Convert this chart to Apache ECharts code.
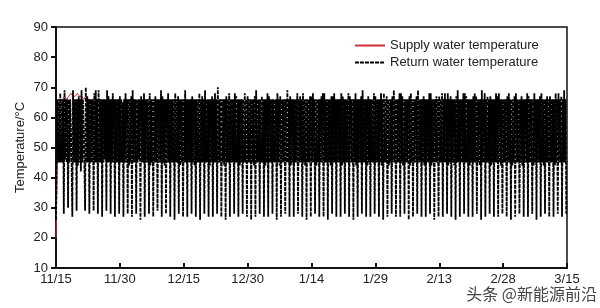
<!DOCTYPE html>
<html>
<head>
<meta charset="utf-8">
<script src="https://cdn.jsdelivr.net/npm/echarts@6/dist/echarts.min.js"></script>
<style>
html,body{margin:0;padding:0;background:#fff;}
#c{width:600px;height:308px;}
</style>
</head>
<body>
<div id="c"></div>
<script>
// x-axis tick labels (every 15 days from 11/15 to 3/15)
const tickLabels = ['11/15','11/30','12/15','12/30','1/14','1/29','2/13','2/28','3/15'];
const seriesNames = ['Supply water temperature', 'Return water temperature'];

// Return water temperature (°C), 6 readings per day, 15 days per block
const return_1115 = [
26,45,66,45,66,45, 68,45,66,45,66,28, 69,46,66,45,66,30, 66,45,66,66,45,27, 69,45,66,45,66,29,
66,44,67,45,66,42, 69,45,66,66,45,29, 70,45,67,45,66,28, 66,45,66,45,66,29, 68,45,69,45,66,28,
69,45,66,45,66,27, 66,45,66,46,66,29, 69,45,67,45,66,28, 66,45,68,45,66,27, 66,45,66,45,66,28];
const return_1130 = [
67,45,66,45,65,27, 66,45,68,45,66,28, 66,44,66,45,67,27, 69,45,66,45,66,28, 66,45,66,46,66,26,
67,45,66,45,68,27, 66,45,66,45,66,28, 68,44,66,45,66,27, 66,45,67,45,66,29, 66,45,66,45,69,27,
67,45,66,44,66,28, 66,45,68,45,66,27, 66,45,66,45,66,26, 68,45,66,45,67,28, 66,44,66,45,66,27];
const return_1215 = [
66,45,69,45,66,27, 66,45,66,45,66,28, 67,45,66,44,66,27, 66,45,66,45,68,26, 66,45,67,45,66,28,
69,45,66,45,66,27, 66,44,66,45,67,27, 66,45,68,45,66,28, 70,45,66,45,66,27, 66,45,66,44,66,26,
67,45,66,45,68,27, 66,45,66,45,66,28, 68,45,67,45,66,27, 66,44,66,45,66,28, 66,45,68,45,66,27];
const return_1230 = [
67,45,66,45,66,26, 66,45,66,44,67,27, 69,45,66,45,66,28, 66,45,67,45,66,27, 66,44,66,45,68,27,
67,45,66,45,66,28, 66,45,66,45,66,26, 68,45,66,44,67,27, 66,45,66,45,66,28, 66,45,69,45,66,27,
67,44,66,45,66,27, 66,45,66,45,68,28, 66,45,67,45,66,27, 68,45,66,44,66,26, 66,45,66,45,67,27];
const return_0114 = [
67,45,68,45,66,28, 66,44,66,45,66,27, 66,45,67,45,68,27, 68,45,66,45,66,26, 66,45,66,44,67,28,
67,45,68,45,66,27, 66,45,66,45,66,27, 68,44,67,45,66,28, 66,45,66,45,68,27, 67,45,66,45,66,26,
66,45,68,44,66,27, 66,45,66,45,67,28, 69,45,66,45,66,27, 66,44,67,45,66,27, 66,45,66,45,68,28];
const return_0129 = [
67,45,66,45,66,27, 66,45,68,44,66,26, 68,45,66,45,67,27, 66,44,66,45,66,28, 67,45,69,45,66,27,
66,45,66,45,68,27, 68,45,67,44,66,28, 66,45,66,45,66,26, 67,44,68,45,66,27, 66,45,66,45,67,28,
69,45,66,45,66,27, 66,45,67,44,66,27, 66,45,66,45,68,28, 68,44,66,45,66,26, 66,45,67,45,66,27];
const return_0213 = [
67,45,66,45,68,27, 66,45,68,45,66,28, 68,44,66,45,67,27, 66,45,66,44,66,26, 67,45,69,45,66,27,
66,45,66,45,68,28, 68,45,67,45,66,27, 66,44,66,45,66,27, 67,45,68,45,67,28, 66,45,66,44,66,26,
69,45,66,45,68,27, 66,45,67,45,66,28, 67,44,66,45,66,27, 66,45,68,45,67,27, 68,45,66,44,66,28];
const return_0228 = [
66,45,66,45,66,27, 67,45,68,45,66,26, 66,44,66,45,67,27, 68,45,66,45,66,28, 66,45,67,44,66,27,
66,45,66,45,68,27, 67,45,66,45,66,28, 66,44,68,45,66,26, 66,45,66,45,67,27, 68,45,66,44,66,28,
66,45,67,45,66,27, 67,45,66,45,66,27, 66,44,68,45,66,28, 68,45,66,45,67,27, 66,45,69,45,66,28];

// Supply water temperature (°C), 2 readings per day, 30 days per block
const supply_1115 = [
20,62, 65,66, 67,66, 67,68, 67,67, 68,67, 67,66, 67,66, 66,65, 65,65,
65,66, 65,64, 65,65, 66,65, 65,65, 65,64, 65,65, 66,65, 65,65, 64,65,
65,65, 65,66, 65,65, 64,65, 65,65, 65,65, 66,65, 65,64, 65,65, 65,65];
const supply_1215 = [
65,65, 65,64, 66,65, 65,65, 65,65, 64,65, 65,65, 65,66, 65,65, 65,64,
65,50, 65,65, 66,65, 65,65, 64,65, 65,65, 65,66, 65,65, 65,64, 65,65,
65,65, 66,65, 65,65, 64,65, 65,65, 65,65, 65,66, 65,65, 65,64, 65,65];
const supply_0114 = [
46,65, 65,65, 66,65, 65,65, 64,65, 65,65, 65,66, 65,65, 65,64, 65,65,
65,65, 66,65, 65,65, 64,65, 65,65, 65,65, 65,66, 65,65, 65,64, 65,65,
65,65, 66,65, 65,65, 64,65, 65,65, 65,65, 65,66, 65,65, 65,64, 65,65];
const supply_0213 = [
65,65, 66,65, 65,65, 64,65, 65,65, 65,65, 65,66, 65,65, 65,64, 65,65,
65,65, 66,65, 65,65, 64,65, 65,65, 65,65, 65,66, 65,65, 65,64, 65,65,
65,65, 66,65, 65,65, 64,65, 65,65, 65,65, 65,66, 65,65, 65,64, 65,66];

const returnBlocks = [return_1115, return_1130, return_1215, return_1230, return_0114, return_0129, return_0213, return_0228];
const supplyBlocks = [supply_1115, supply_1215, supply_0114, supply_0213];

function toPoints(blocks, daysPerBlock, perDay) {
  const out = [];
  blocks.forEach((arr, b) => {
    arr.forEach((v, i) => out.push([b * daysPerBlock + i / perDay, v]));
  });
  return out;
}
const returnData = toPoints(returnBlocks, 15, 6);
const supplyData = toPoints(supplyBlocks, 30, 2);

const chart = echarts.init(document.getElementById('c'), null, {renderer: 'canvas'});
const FONT = 'Liberation Sans, Arial, sans-serif';
chart.setOption({
  animation: false,
  backgroundColor: '#fff',
  grid: {left: 56, right: 33, top: 27, bottom: 40, show: true, borderColor: '#111', borderWidth: 1.5, backgroundColor: 'transparent'},
  legend: {
    orient: 'vertical', left: 349, top: 34, itemWidth: 30, itemHeight: 10, itemGap: 4,
    itemStyle: {opacity: 0},
    textStyle: {fontFamily: FONT, fontSize: 13, color: '#222'},
    data: seriesNames
  },
  xAxis: {
    type: 'value', min: 0, max: 120, interval: 15,
    axisLine: {show: true, lineStyle: {color: '#111', width: 2}},
    axisTick: {show: true, inside: true, length: 5, lineStyle: {color: '#111', width: 2}},
    axisLabel: {margin: 5, fontFamily: FONT, fontSize: 13, color: '#222',
      formatter: v => tickLabels[Math.round(v / 15)]},
    splitLine: {show: false}
  },
  yAxis: {
    type: 'value', min: 10, max: 90, interval: 10,
    name: 'Temperature/°C', nameLocation: 'middle', nameGap: 29, nameMoveOverlap: false,
    nameTextStyle: {fontFamily: FONT, fontSize: 13, color: '#222'},
    axisLine: {show: true, lineStyle: {color: '#111', width: 2}},
    axisTick: {show: true, inside: false, length: 5, lineStyle: {color: '#111', width: 2}},
    axisLabel: {margin: 8, fontFamily: FONT, fontSize: 13, color: '#222'},
    splitLine: {show: false}
  },
  series: [
    {name: seriesNames[0], type: 'line', data: supplyData, symbol: 'none', silent: true,
      lineStyle: {color: '#d0303a', width: 1}, itemStyle: {color: '#d0303a'}},
    {name: seriesNames[1], type: 'line', data: returnData, symbol: 'none', silent: true,
      lineStyle: {color: '#000', width: 1.8, type: [4, 1]}, itemStyle: {color: '#000'}}
  ],
  graphic: [{
    type: 'text', right: 2, bottom: 5,
    style: {text: '头条 @新能源前沿', font: '16px "Noto Sans CJK SC", sans-serif', fill: '#444', stroke: '#fff', lineWidth: 2}
  }]
});
</script>
</body>
</html>
